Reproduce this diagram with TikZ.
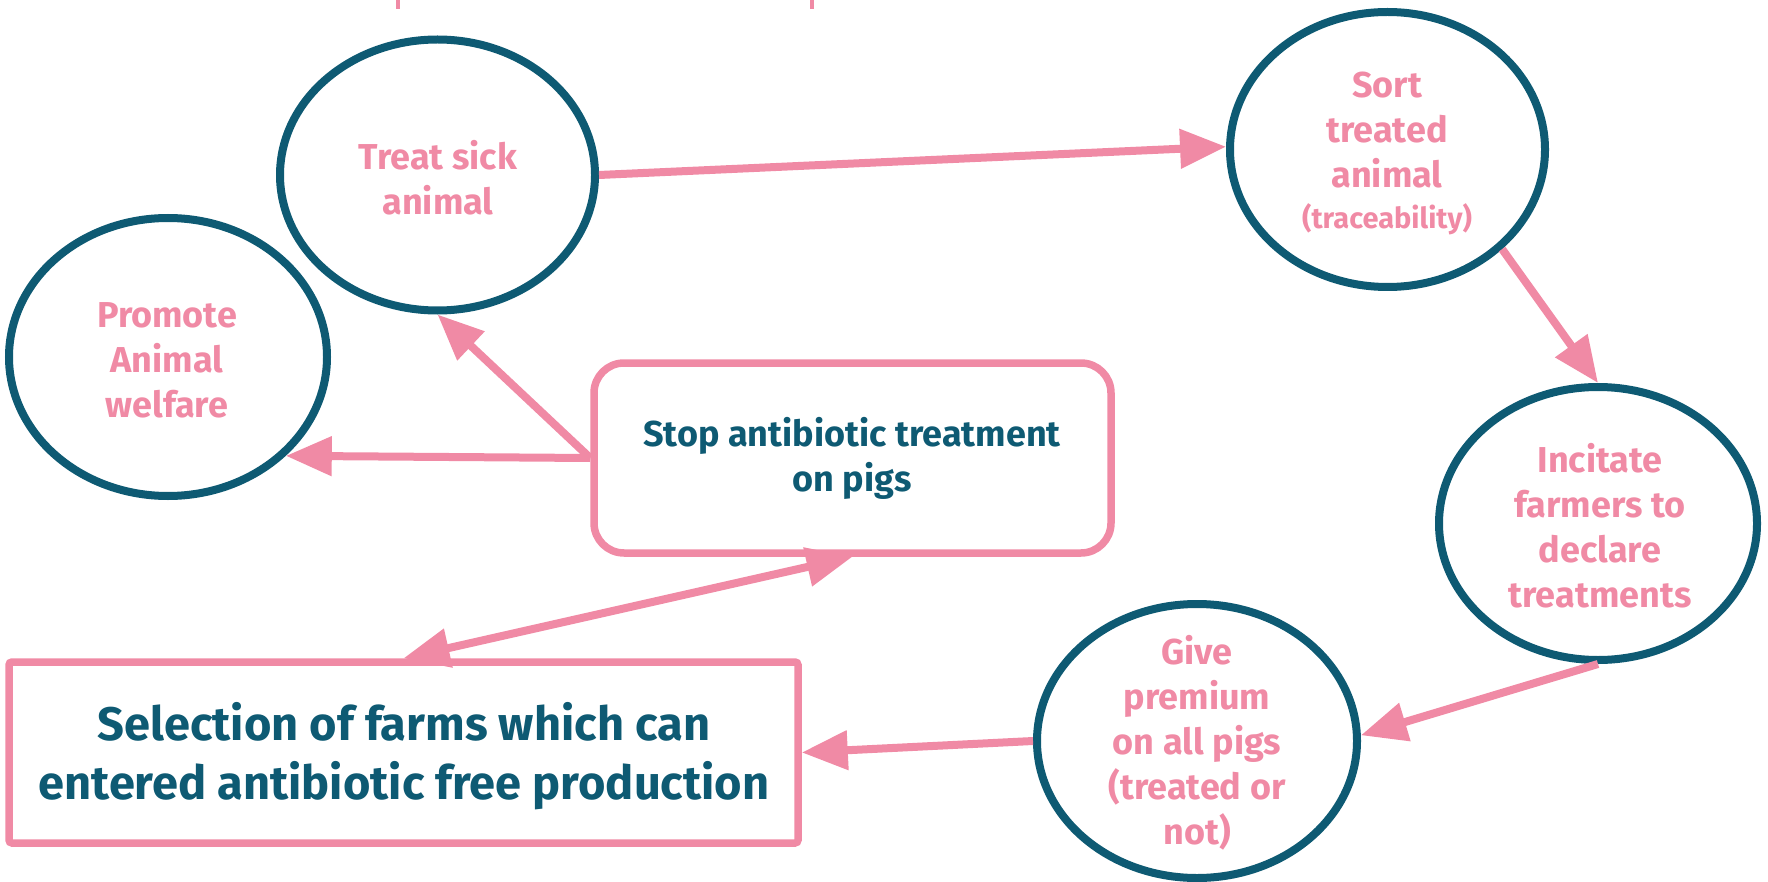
\documentclass[tikz,border=0pt]{standalone}
\usepackage{fontspec}
\setmainfont{Fira Sans}
\usetikzlibrary{shapes.geometric,arrows.meta}
\definecolor{teal}{HTML}{0E5A73}
\definecolor{rose}{HTML}{F08AA5}
\tikzset{
  ell/.style={ellipse,draw=teal,line width=8pt,inner sep=0pt},
  etext/.style={text=rose,font=\bfseries\fontsize{36}{45}\selectfont,align=center,inner sep=0pt},
  btext/.style={text=teal,font=\bfseries\fontsize{36}{45}\selectfont,align=center,inner sep=0pt},
  stopbox/.style={rectangle,draw=rose,line width=7.5pt,rounded corners=30pt,inner sep=0pt},
  selbox/.style={rectangle,draw=rose,line width=7.5pt,rounded corners=3pt,inner sep=0pt},
  conn/.style={draw=rose,line width=8pt,-{Triangle[length=46pt,width=38pt]}},
  tick/.style={draw=rose,line width=4.3pt}
}
\begin{document}
\begin{tikzpicture}[x=1pt,y=-1pt]
\useasboundingbox (0,0) rectangle (1768,882);
% top ticks
\coordinate (t1a) at (398,0); \coordinate (t1b) at (398,9);
\coordinate (t2a) at (812,0); \coordinate (t2b) at (812,9);
\draw[tick] (t1a) -- (t1b);
\draw[tick] (t2a) -- (t2b);
% ellipses
\node[ell,minimum width=315pt,minimum height=271pt] (treat) at (437.5,175) {};
\node[etext] (treattxt) at (438,178) {Treat sick\\animal};
\node[ell,minimum width=315pt,minimum height=275pt] (sort) at (1387.5,149.5) {};
\node[etext] (sorttxt) at (1387,153) {Sort\\treated\\animal\\[-4pt]{\fontsize{29}{36}\selectfont(traceability)}};
\node[ell,minimum width=318pt,minimum height=278pt] (promote) at (168,357) {};
\node[etext] (promotetxt) at (167,360) {Promote\\Animal\\welfare};
\node[ell,minimum width=318pt,minimum height=273pt] (incitate) at (1598,523.5) {};
\node[etext] (incitatetxt) at (1600,526) {Incitate\\farmers to\\declare\\treatments};
\node[ell,minimum width=320pt,minimum height=274pt] (give) at (1197,741) {};
\node[etext] (givetxt) at (1197,743) {Give\\premium\\on all pigs\\(treated or\\not)};
% boxes
\node[stopbox,minimum width=517pt,minimum height=190pt] (stop) at (852.5,458) {};
\node[btext] (stoptxt) at (852,458) {Stop antibiotic treatment\\on pigs};
\node[selbox,minimum width=789pt,minimum height=181pt] (sel) at (403.5,752.5) {};
\node[btext,font=\bfseries\fontsize{47}{59}\selectfont] (seltxt) at (404,756) {Selection of farms which can\\entered antibiotic free production};
% connectors
\draw[conn] (treat.east) -- (sort.179);
\draw[conn] (sort.-41) -- (incitate.north);
\draw[conn] (incitate.south) -- (give.2);
\draw[conn] (give.west) -- (sel.east);
\draw[conn] (stop.west) -- (treat.south);
\draw[conn] (stop.west) -- (promote.-40);
\draw[conn,{Triangle[length=46pt,width=38pt]}-{Triangle[length=46pt,width=38pt]}] (sel.north) -- (stop.south);
\end{tikzpicture}
\end{document}
